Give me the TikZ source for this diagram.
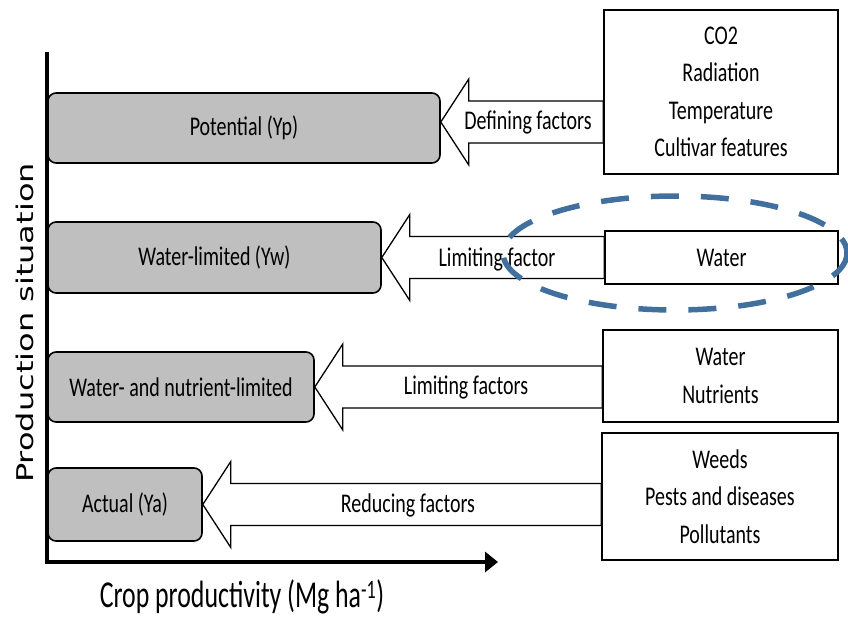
\documentclass[tikz,border=0pt]{standalone}
\usepackage{fontspec}
\setmainfont[FakeStretch=0.74]{Carlito}
\newfontfamily\xlabfont[FakeStretch=0.68]{Carlito}
\newfontfamily\ylabfont{DejaVu Sans}
\usetikzlibrary{arrows.meta,calc}
\definecolor{boxgray}{RGB}{191,191,191}
\definecolor{dashblue}{RGB}{65,112,158}
\tikzset{
  graybox/.style={draw=black, line width=1.6pt, fill=boxgray, rounded corners=8pt, inner sep=0pt, font=\fontsize{27}{32}\selectfont},
  factbox/.style={draw=black, line width=1.5pt, fill=white, inner sep=0pt, align=center, font=\fontsize{27}{37.5}\selectfont},
  blk/.style={draw=black, line width=1.3pt, fill=white, line join=miter},
  lbl/.style={inner sep=0pt, font=\fontsize{27}{32}\selectfont},
  axisline/.style={line width=4pt},
}
\newcommand{\blockarrow}[2]{%
  \draw[blk] let \p1=(#1), \p2=(#2) in
    (\x1,\y1) -- (\x1+28pt,\y1+43pt) -- (\x1+28pt,\y1+21pt) -- (\x2,\y1+21pt)
    -- (\x2,\y1-21pt) -- (\x1+28pt,\y1-21pt) -- (\x1+28pt,\y1-43pt) -- cycle;}
\begin{document}
\begin{tikzpicture}[x=1pt,y=-1pt]
\useasboundingbox (0,0) rectangle (848,616);
% axes
\coordinate (ytop) at (47,52);
\coordinate (orig) at (47,562);
\coordinate (xend) at (498,562);
\draw[axisline, -{Triangle[length=13pt,width=20pt]}] (ytop) -- (orig) -- (xend);
% gray boxes
\node[graybox, minimum width=392pt, minimum height=70pt] (pot) at (244,128) {Potential (Yp)};
\node[graybox, minimum width=333pt, minimum height=71pt] (wl) at (214.5,257.5) {Water-limited (Yw)};
\node[graybox, minimum width=266pt, minimum height=70pt] (wn) at (181,387) {Water- and nutrient-limited};
\node[graybox, minimum width=154pt, minimum height=73pt] (act) at (125,504.5) {Actual (Ya)};
% factor boxes
\node[factbox, minimum width=234pt, minimum height=164pt] (def) at (721,92) {CO2\\Radiation\\Temperature\\Cultivar features};
\node[factbox, minimum width=233pt, minimum height=53pt] (wat) at (721.5,257.5) {Water};
\node[factbox, minimum width=235pt, minimum height=92pt] (wnut) at (720.5,376) {Water\\Nutrients};
\node[factbox, minimum width=236pt, minimum height=127pt] (red) at (720,496.5) {Weeds\\Pests and diseases\\Pollutants};
% block arrows
\coordinate (t1) at ($(pot.east)+(0,-6)$);
\blockarrow{t1}{def.west}
\blockarrow{wl.east}{wat.west}
\blockarrow{wn.east}{wnut.west}
\blockarrow{act.east}{red.west}
\node[lbl] (l1) at (528,122) {Defining factors};
\node[lbl] (l2) at (497,259) {Limiting factor};
\node[lbl] (l3) at (466,387) {Limiting factors};
\node[lbl] (l4) at (408,505) {Reducing factors};
% dashed ellipse
\draw[dashblue, line width=5.5pt, dash pattern=on 28pt off 22pt] (675,253) ellipse [x radius=172, y radius=57];
% axis labels
\node[inner sep=0pt, rotate=90] (ylab) at (25,323) {\scalebox{1}[0.72]{\ylabfont\fontsize{32}{36}\selectfont Production situation}};
\node[inner sep=0pt] (xlab) at (242,597) {\xlabfont\fontsize{38}{42}\selectfont Crop productivity (Mg ha\textsuperscript{-1})};
\end{tikzpicture}
\end{document}
